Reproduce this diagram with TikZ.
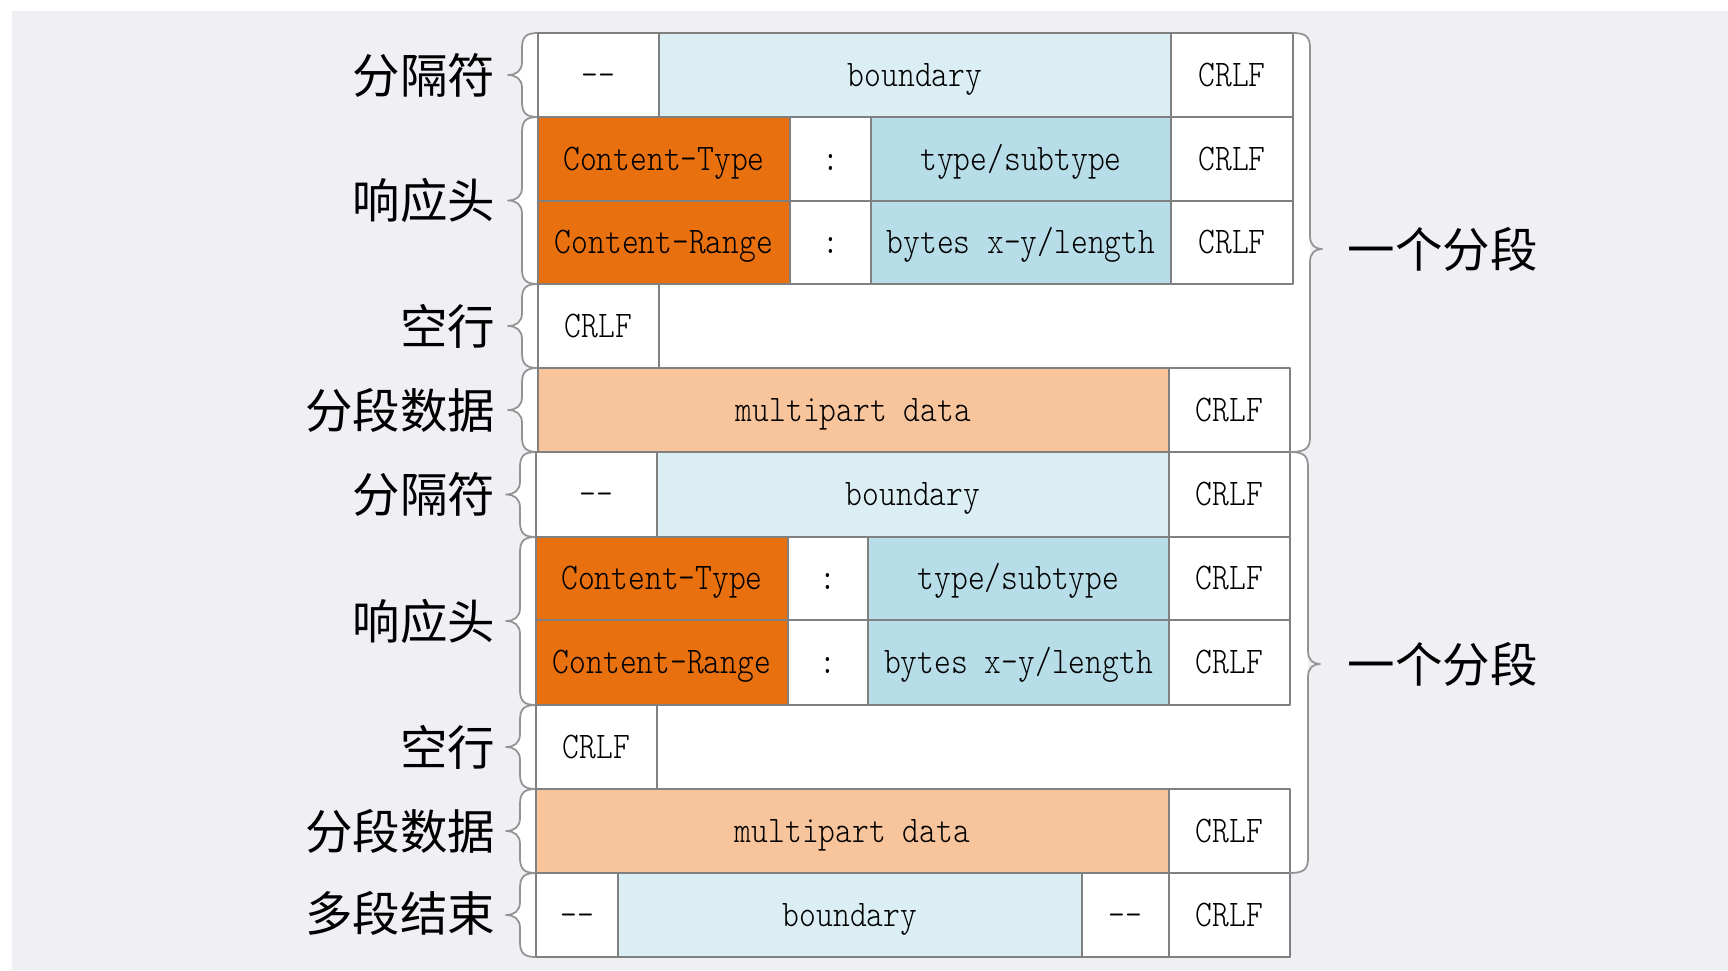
\documentclass[tikz,border=0pt]{standalone}
\usepackage{fontspec}
\newfontfamily\cjk{Noto Sans CJK SC}
\newfontfamily\cellfont[FakeStretch=0.85,Ligatures=TeXOff]{lmmonolt10-regular.otf}
\definecolor{bggray}{HTML}{F0EFF4}
\definecolor{lblue}{HTML}{DAEEF3}
\definecolor{mblue}{HTML}{B7DDE8}
\definecolor{horange}{HTML}{E8700F}
\definecolor{peach}{HTML}{F8C49C}
\definecolor{linegray}{HTML}{808080}
\tikzset{
  cell/.style={draw=linegray, line width=0.5pt},
  celltext/.style={font=\cellfont\fontsize{10.7}{12}\selectfont, inner sep=0pt, text height=6.5pt, text depth=0pt},
  lab/.style={font=\cjk\fontsize{13.5}{15}\selectfont, inner sep=0pt, anchor=east},
  brace/.style={draw=linegray!85, line width=0.5pt},
}
\begin{document}
\begin{tikzpicture}[x=0.01cm, y=-0.01cm, line join=round, line cap=round]
\useasboundingbox (0,0) rectangle (1728,970);
\fill[bggray] (12,11) rectangle (1728,970);
% white areas held by the right braces
\foreach \ya/\yb/\xl/\xt/\xm/\xs in {33/452/538/1293/1290/1310, 452/873/536/1290/1290/1308}{
  \fill[white] (\xl,\ya) -- (\xt,\ya) .. controls (\xs-4,\ya) and (\xs,\ya+4) .. (\xs,\ya+15) -- (\xs,\yb-15) .. controls (\xs,\yb-4) and (\xs-4,\yb) .. (\xm,\yb) -- (\xl,\yb) -- cycle;
}
% left braces
\foreach \ya/\yb/\xe in {33/117/538, 117/284/538, 284/368/538, 368/452/538, 452/537/536, 537/705/536, 705/789/536, 789/873/536, 873/957/536}{
  \pgfmathsetmacro\ym{(\ya+\yb)/2}
  \filldraw[brace, fill=white] (\xe,\ya) .. controls (\xe-12,\ya) and (\xe-16,\ya+4) .. (\xe-16,\ya+15)
    -- (\xe-16,\ym-13) .. controls (\xe-16,\ym-4) and (\xe-22,\ym) .. (\xe-30,\ym)
    .. controls (\xe-22,\ym) and (\xe-16,\ym+4) .. (\xe-16,\ym+13)
    -- (\xe-16,\yb-15) .. controls (\xe-16,\yb-4) and (\xe-12,\yb) .. (\xe,\yb) -- cycle;
}
% cells
\foreach \xa/\xb/\ya/\yb/\f/\t [count=\i] in {
  538/659/33/117/white/{--}, 659/1171/33/117/lblue/{boundary}, 1171/1293/33/117/white/{CRLF},
  538/790/117/201/horange/{Content-Type}, 790/871/117/201/white/{:}, 871/1171/117/201/mblue/{type/subtype}, 1171/1293/117/201/white/{CRLF},
  538/790/201/284/horange/{Content-Range}, 790/871/201/284/white/{:}, 871/1171/201/284/mblue/{bytes x-y/length}, 1171/1293/201/284/white/{CRLF},
  538/659/284/368/white/{CRLF},
  538/1169/368/452/peach/{multipart data}, 1169/1290/368/452/white/{CRLF},
  536/657/452/537/white/{--}, 657/1169/452/537/lblue/{boundary}, 1169/1290/452/537/white/{CRLF},
  536/788/537/620/horange/{Content-Type}, 788/868/537/620/white/{:}, 868/1169/537/620/mblue/{type/subtype}, 1169/1290/537/620/white/{CRLF},
  536/788/620/705/horange/{Content-Range}, 788/868/620/705/white/{:}, 868/1169/620/705/mblue/{bytes x-y/length}, 1169/1290/620/705/white/{CRLF},
  536/657/705/789/white/{CRLF},
  536/1169/789/873/peach/{multipart data}, 1169/1290/789/873/white/{CRLF},
  536/618/873/957/white/{--}, 618/1082/873/957/lblue/{boundary}, 1082/1169/873/957/white/{--}, 1169/1290/873/957/white/{CRLF}}{
  \draw[cell, fill=\f] (\xa,\ya) rectangle (\xb,\yb);
  \node[celltext] (c\i) at ({(\xa+\xb)/2},{(\ya+\yb)/2}) {\t};
}
% right braces
\foreach \ya/\yb/\yt/\xt/\xm/\xs/\n in {33/452/249/1293/1290/1310/seg1, 452/873/664/1290/1290/1308/seg2}{
  \draw[brace] (\xt,\ya) .. controls (\xs-4,\ya) and (\xs,\ya+4) .. (\xs,\ya+15)
    -- (\xs,\yt-13) .. controls (\xs,\yt-4) and (\xs+5,\yt) .. (\xs+12,\yt)
    .. controls (\xs+5,\yt) and (\xs,\yt+4) .. (\xs,\yt+13)
    -- (\xs,\yb-15) .. controls (\xs,\yb-4) and (\xs-4,\yb) .. (\xm,\yb);
  \node[lab, anchor=west] (\n) at (1347,\yt) {一个分段};
}
% row labels
\foreach \y/\n/\t in {75/sep1/分隔符, 200/hdr1/响应头, 326/blank1/空行, 410/data1/分段数据, 494/sep2/分隔符, 621/hdr2/响应头, 747/blank2/空行, 831/data2/分段数据, 913/last/多段结束}
  \node[lab] (\n) at (496,\y) {\t};
\end{tikzpicture}
\end{document}
